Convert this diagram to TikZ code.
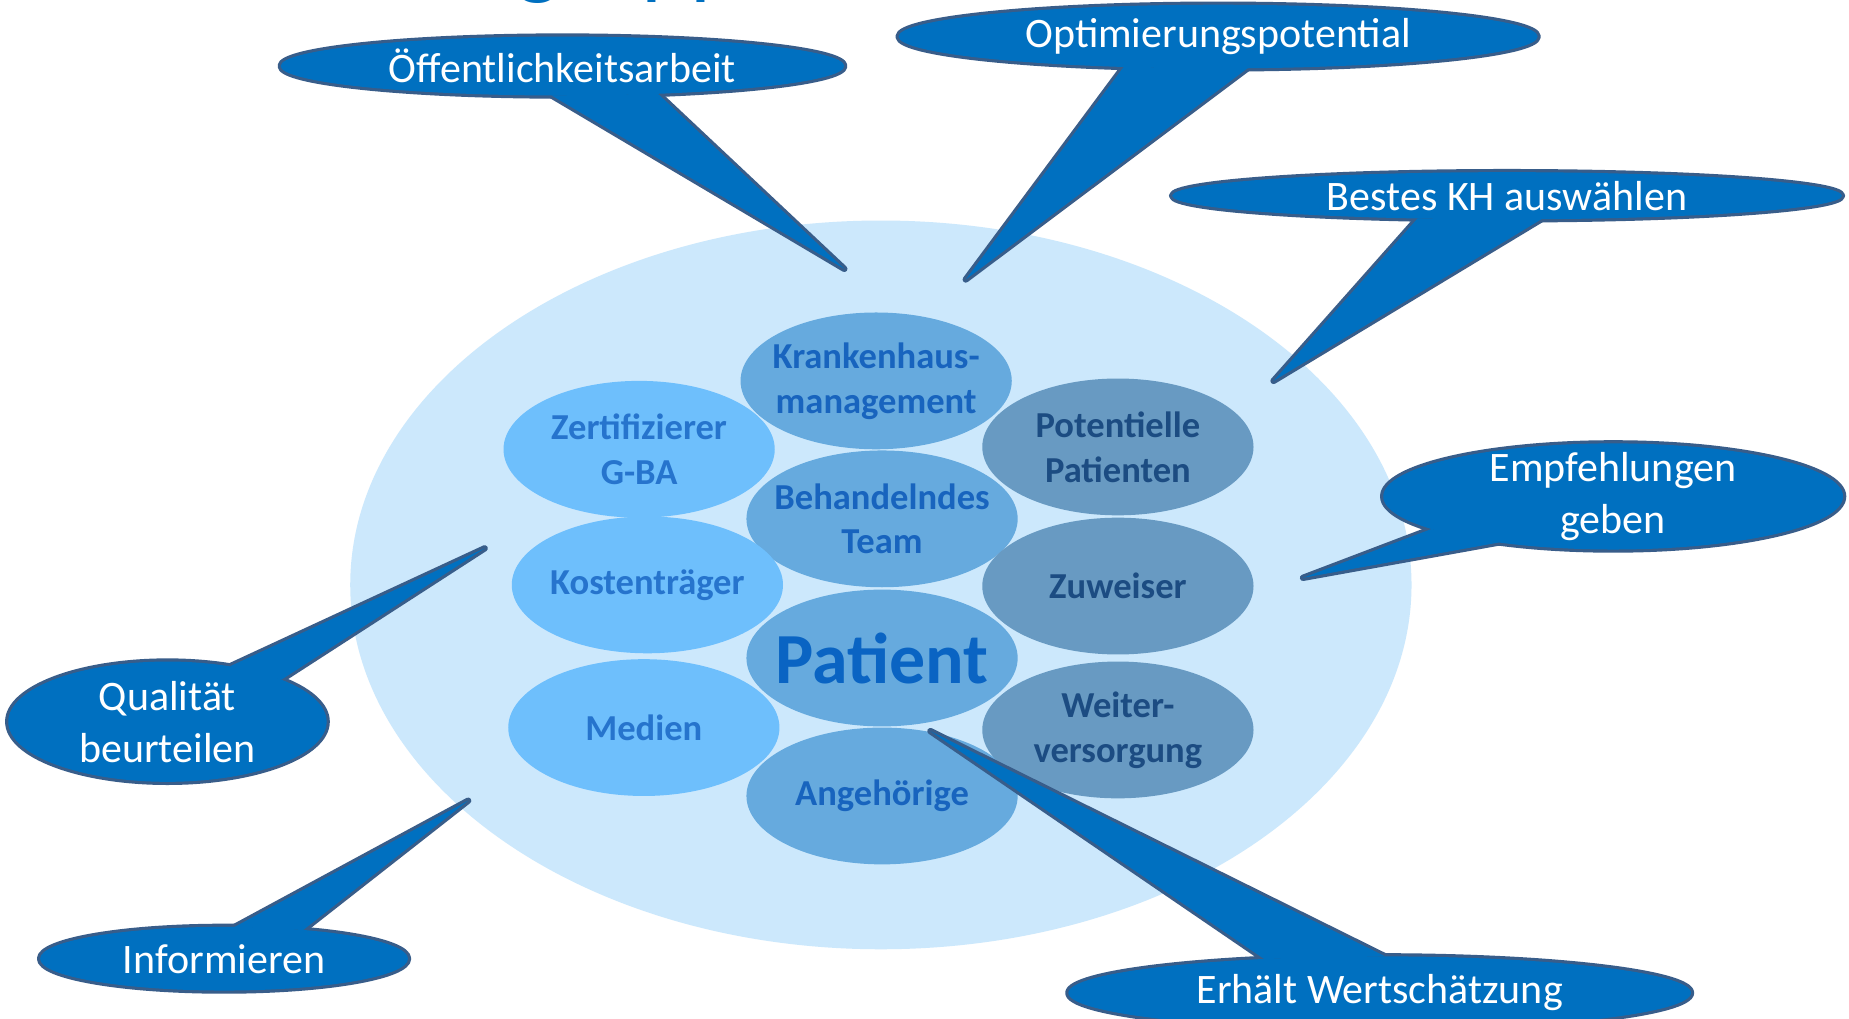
\documentclass[tikz,border=0pt]{standalone}
\usepackage{fontspec}
\setmainfont{Carlito}
\usetikzlibrary{shapes.geometric}

\definecolor{fieldblue}{RGB}{204,232,252}
\definecolor{leftfill}{RGB}{110,191,252}
\definecolor{midfill}{RGB}{102,170,222}
\definecolor{rightfill}{RGB}{104,154,194}
\definecolor{lefttext}{RGB}{38,116,205}
\definecolor{midtext}{RGB}{24,100,190}
\definecolor{righttext}{RGB}{28,76,130}
\definecolor{pattext}{RGB}{10,100,195}
\definecolor{bubblefill}{RGB}{0,112,192}
\definecolor{bubbleedge}{RGB}{56,93,138}
\definecolor{titleblue}{RGB}{0,112,192}

\tikzset{
  field/.style={ellipse, fill=fieldblue, minimum width=900pt, minimum height=618pt, inner sep=0pt},
  group/.style={ellipse, minimum width=230pt, minimum height=116pt, inner sep=0pt},
  leftgroup/.style={group, fill=leftfill},
  midgroup/.style={group, fill=midfill},
  rightgroup/.style={group, fill=rightfill},
  grouptext/.style={inner sep=0pt, align=center, font=\bfseries\fontsize{31}{38}\selectfont},
  lefttextstyle/.style={grouptext, text=lefttext},
  midtextstyle/.style={grouptext, text=midtext},
  righttextstyle/.style={grouptext, text=righttext},
  bubble edge/.style={draw=bubbleedge, line width=5.4pt, line join=round},
  bubble fill/.style={fill=bubblefill},
  bubble text/.style={text=white, align=center, inner sep=0pt,
    font=\fontsize{35.6}{44}\selectfont},
}

% speech bubble: name, centre, x radius, y radius, base angle 1, base angle 2, tip, text
\newcommand\bubble[8]{%
  \coordinate (#1-c) at #2;
  \path (#1-c) ++(#5:#3 and #4) coordinate (#1-a);
  \path (#1-c) ++(#6:#3 and #4) coordinate (#1-b);
  \coordinate (#1-tip) at #7;
  \draw[bubble edge] (#1-c) ellipse [x radius=#3, y radius=#4];
  \draw[bubble edge] (#1-a) -- (#1-tip) -- (#1-b);
  \fill[bubble fill] (#1-c) ellipse [x radius=#3, y radius=#4];
  \fill[bubble fill] (#1-a) -- (#1-tip) -- (#1-b) -- cycle;
  \node[bubble text] (#1) at (#1-c) {#8};
}

\begin{document}
\begin{tikzpicture}[x=1pt, y=-1pt]
  \useasboundingbox (0,0) rectangle (1568,864);
  \clip (0,0) rectangle (1568,864);
  \fill[white] (0,0) rectangle (1568,864);

  % heading, only its descenders reach into the frame
  \node[anchor=base west, text=titleblue, inner sep=0pt,
        font=\fontsize{79}{90}\selectfont] (title) at (325,-11) {Zielgruppen};

  % surrounding field
  \node[field] (field) at (747,496) {};

  % central column
  \node[midgroup] (kh)   at (743,323) {};
  \node[midgroup] (team) at (748,440) {};
  \node[midgroup] (pat)  at (748,558) {};
  \node[midgroup] (ang)  at (748,675) {};

  % left column
  \node[leftgroup] (zert) at (542,381) {};
  \node[leftgroup] (kost) at (549,496) {};
  \node[leftgroup] (med)  at (546,617) {};

  % right column
  \node[rightgroup] (pot)  at (948,379) {};
  \node[rightgroup] (zuw)  at (948,497) {};
  \node[rightgroup] (weit) at (948,619) {};

  % group labels
  \node[midtextstyle] (kh-t)   at (kh)   {Krankenhaus-\\management};
  \node[midtextstyle] (team-t) at (team) {Behandelndes\\Team};
  \node[midtextstyle, text=pattext, font=\bfseries\fontsize{61}{66}\selectfont] (pat-t) at (pat) {Patient};
  \node[midtextstyle] (ang-t)  at (ang)  {Angehörige};
  \node[lefttextstyle] (zert-t) at (zert) {Zertifizierer\\G-BA};
  \node[lefttextstyle] (kost-t) at (kost) {Kostenträger};
  \node[lefttextstyle] (med-t)  at (med)  {Medien};
  \node[righttextstyle] (pot-t)  at (pot)  {Potentielle\\Patienten};
  \node[righttextstyle] (zuw-t)  at (zuw)  {Zuweiser};
  \node[righttextstyle] (weit-t) at (weit) {Weiter-\\versorgung};

  % speech bubbles
  \bubble{oeff}{(477,56)}{239pt}{25pt}{267.8}{289.8}{(716,228)}{Öffentlichkeitsarbeit}
  \bubble{opt}{(1033,31)}{271pt}{27pt}{252.8}{275.3}{(819,237)}{Optimierungspotential}
  \bubble{best}{(1278,166)}{284pt}{20pt}{254.5}{275.9}{(1080,323)}{Bestes KH auswählen}
  \bubble{empf}{(1368,421)}{195pt}{45pt}{217.8}{240.2}{(1105,490)}{Empfehlungen\\geben}
  \bubble{qual}{(142,612)}{135pt}{51pt}{66.9}{44.3}{(411,465)}{Qualität\\beurteilen}
  \bubble{info}{(190,813)}{156pt}{27pt}{86.7}{64.5}{(397,679)}{Informieren}
  \bubble{wert}{(1170,842)}{264pt}{31pt}{111.8}{89}{(789,620)}{Erhält Wertschätzung}
\end{tikzpicture}
\end{document}
